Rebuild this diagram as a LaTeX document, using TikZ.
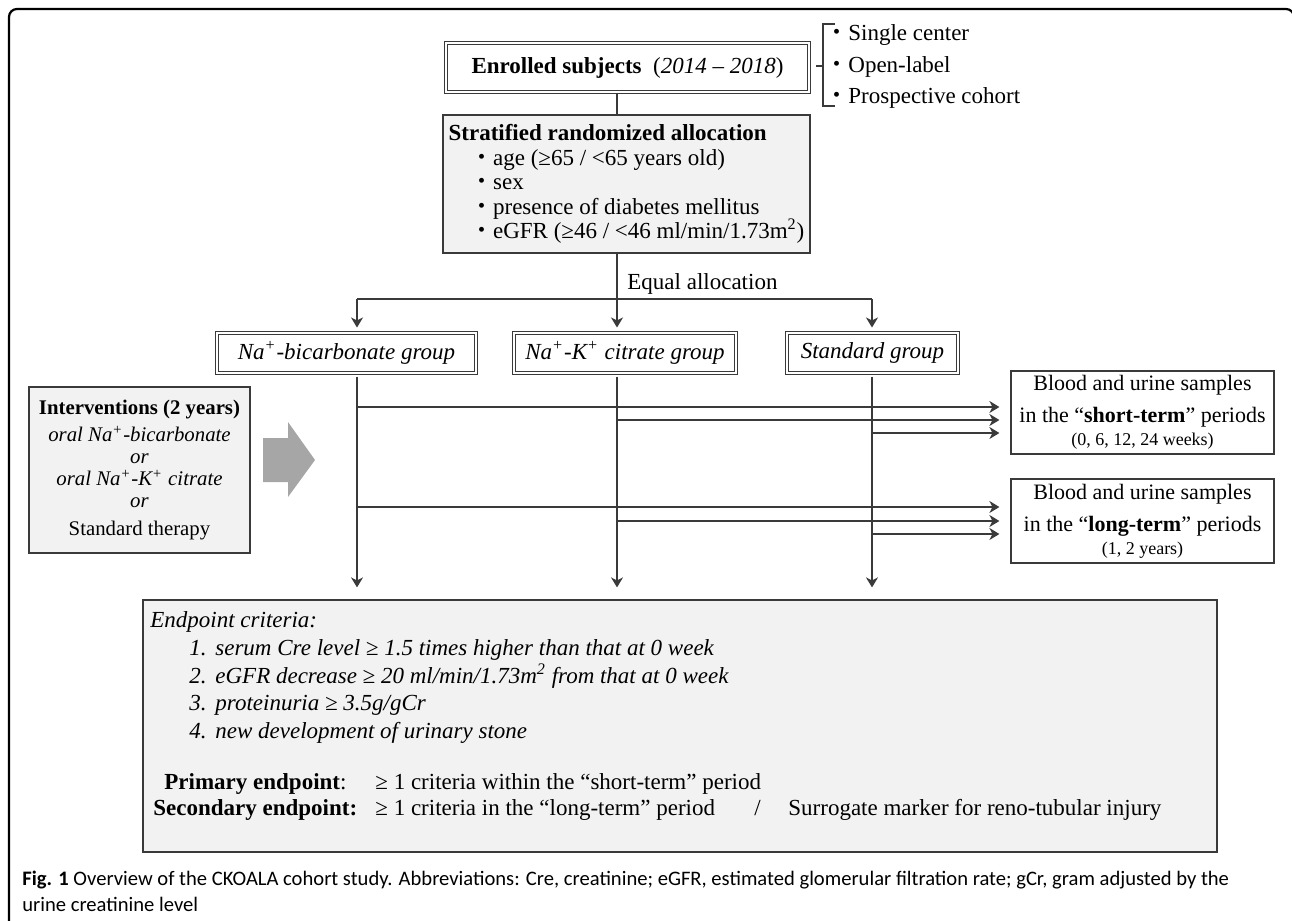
\documentclass[tikz,border=0pt]{standalone}
\usepackage{fontspec}
\setmainfont{Liberation Serif}
\newfontfamily\capfont{Carlito}
\newfontfamily\cjk{Noto Sans CJK JP}
\usetikzlibrary{arrows.meta}
\definecolor{CkLine}{HTML}{3A3A3A}
\definecolor{CkFill}{HTML}{F2F2F2}
\definecolor{CkArrow}{HTML}{A6A6A6}
\newcommand{\jdot}{{\cjk ・}}
\tikzset{
  ck plain/.style={draw=CkLine, line width=0.6pt, fill=white, inner sep=0pt, align=center},
  ck gray/.style={draw=CkLine, line width=0.6pt, fill=CkFill, inner sep=0pt},
  ck double/.style={draw=CkLine, line width=0.5pt, double=white, double distance=1.4pt,
    inner sep=0pt},
  ck text/.style={inner sep=0pt, anchor=base west},
  ck line/.style={line width=0.6pt, draw=CkLine},
  ck arr/.style={-{Stealth[length=5pt, width=6pt, inset=1.5pt]}, line width=0.6pt, draw=CkLine}
}

\begin{document}
\begin{tikzpicture}[x=0.5pt, y=-0.5pt, font=\fontsize{11.5}{14}\selectfont]
  \useasboundingbox (0,0) rectangle (1292,921);
  \draw[line width=1.1pt, rounded corners=4pt] (9,940) -- (9,9) -- (1294,9) -- (1294,940);

  % enrolment
  \node[ck double, minimum width=181.5pt, minimum height=24.5pt] (enrol) at (627.5,67.5)
    {\textbf{Enrolled subjects}\enspace(\textit{2014 – 2018})};
  \draw[ck line] (835,24) -- (823,24) -- (823,106) -- (835,106);
  \draw[ck line] (816,66) -- (823,66);
  \node[ck text] (lst1) at (825,40) {\jdot Single center};
  \node[ck text] (lst2) at (825,72) {\jdot Open-label};
  \node[ck text] (lst3) at (825,103) {\jdot Prospective cohort};

  \node[ck gray, minimum width=183.5pt, minimum height=69pt, align=left,
    font=\fontsize{11.5}{12.25}\selectfont] (strat) at (626.5,184)
    {\textbf{Stratified randomized allocation}\\
     \hspace*{10.75pt}\jdot age (≥65 / <65 years old)\\
     \hspace*{10.75pt}\jdot sex\\
     \hspace*{10.75pt}\jdot presence of diabetes mellitus\\
     \hspace*{10.75pt}\jdot eGFR (≥46 / <46 ml/min/1.73m\textsuperscript{2})};

  \node[ck text] (eqlab) at (627,289) {Equal allocation};

  \coordinate (col1) at (357,299);
  \coordinate (col2) at (617,299);
  \coordinate (col3) at (872,299);

  % groups
  \node[ck double, minimum width=129.5pt, minimum height=20pt] (g1) at (346.5,353)
    {\textit{Na\textsuperscript{+}-bicarbonate group}};
  \node[ck double, minimum width=111pt, minimum height=20pt] (g2) at (625,353)
    {\textit{Na\textsuperscript{+}-K\textsuperscript{+} citrate group}};
  \node[ck double, minimum width=85.5pt, minimum height=20pt] (g3) at (872.5,353)
    {\textit{Standard group}};

  \draw[ck line] (enrol.south -| col2) -- (strat.north -| col2);
  \draw[ck line] (strat.south -| col2) -- (col2);
  \draw[ck line] (col1) -- (col3);
  \foreach \c/\g in {col1/g1, col2/g2, col3/g3}
    \draw[ck arr, shorten >=2.5pt] (\c) -- (\c |- \g.north);

  % interventions
  \node[ck gray, minimum width=110.5pt, minimum height=83pt, align=center,
    font=\fontsize{10.4}{11}\selectfont] (interv) at (139.5,470)
    {\textbf{Interventions (2 years)}\\[2.5pt]
     \textit{oral Na\textsuperscript{+}-bicarbonate}\\
     \textit{or}\\
     \textit{oral Na\textsuperscript{+}-K\textsuperscript{+} citrate}\\
     \textit{or}\\[3pt]
     Standard therapy};
  \fill[CkArrow] (263,438) -- (288,438) -- (288,422) -- (315,460) -- (288,497)
    -- (288,482) -- (263,482) -- cycle;

  % samples
  \node[ck plain, minimum width=131.5pt, minimum height=41.5pt,
    font=\fontsize{11}{13}\selectfont] (short) at (1142.5,412.5)
    {Blood and urine samples\\[3pt]
     in the “\textbf{short-term}” periods\\[-1.5pt]
     {\fontsize{9}{11}\selectfont (0, 6, 12, 24 weeks)}};
  \node[ck plain, minimum width=131.5pt, minimum height=42pt,
    font=\fontsize{11}{13}\selectfont] (long) at (1142.5,521)
    {Blood and urine samples\\[3pt]
     in the “\textbf{long-term}” periods\\[-1.5pt]
     {\fontsize{9}{11}\selectfont (1, 2 years)}};

  \foreach \x/\y in {357/407, 617/420, 872/433}
    \draw[ck arr, shorten >=5.5pt] (\x,\y) coordinate (t) -- (t -| short.west);
  \foreach \x/\y in {357/507, 617/521, 872/534}
    \draw[ck arr, shorten >=5.5pt] (\x,\y) coordinate (t) -- (t -| long.west);

  % endpoints
  \node[ck gray, minimum width=537pt, minimum height=126pt] (endp) at (680,726) {};
  \foreach \c/\g in {col1/g1, col2/g2, col3/g3}
    \draw[ck arr, shorten <=1.5pt, shorten >=6pt] (\c |- \g.south) -- (\c |- endp.north);

  \node[inner sep=0pt, anchor=west, align=left, font=\fontsize{11.5}{13.9}\selectfont]
    (crit) at (150,677.5)
    {\textit{Endpoint criteria:}\\
     \hspace*{19.5pt}\makebox[13pt][l]{\textit{1.}}\textit{serum Cre level ≥ 1.5 times higher than that at 0 week}\\
     \hspace*{19.5pt}\makebox[13pt][l]{\textit{2.}}\textit{eGFR decrease ≥ 20 ml/min/1.73m\textsuperscript{2} from that at 0 week}\\
     \hspace*{19.5pt}\makebox[13pt][l]{\textit{3.}}\textit{proteinuria ≥ 3.5g/gCr}\\
     \hspace*{19.5pt}\makebox[13pt][l]{\textit{4.}}\textit{new development of urinary stone}};
  \node[ck text] (prim) at (164,789) {\textbf{Primary endpoint}:};
  \node[ck text] (primtxt) at (375,789) {≥ 1 criteria within the “short-term” period};
  \node[ck text] (sec) at (153,815) {\textbf{Secondary endpoint:}};
  \node[ck text] (sectxt) at (375,815) {≥ 1 criteria in the “long-term” period};
  \node[ck text] (slash) at (754,815) {/};
  \node[ck text] (surr) at (788,815) {Surrogate marker for reno-tubular injury};

  \node[anchor=north west, inner sep=0pt, align=left, font=\capfont\fontsize{10.3}{13}\selectfont]
    (cap) at (22,871)
    {\textbf{Fig. 1} Overview of the CKOALA cohort study. Abbreviations: Cre, creatinine; eGFR, estimated glomerular filtration rate; gCr, gram adjusted by the\\
     urine creatinine level};
\end{tikzpicture}
\end{document}
